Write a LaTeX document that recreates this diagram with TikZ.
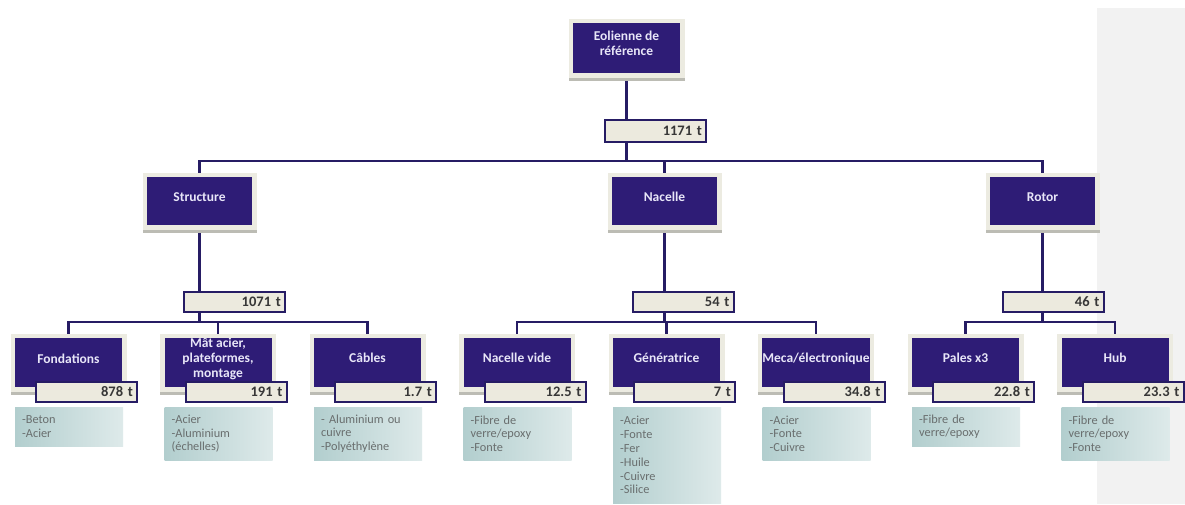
\documentclass[tikz,border=0pt]{standalone}
\usepackage{fontspec}
\setmainfont{Carlito}
\definecolor{navy}{RGB}{46,28,118}
\definecolor{linec}{RGB}{38,28,100}
\definecolor{bezel}{RGB}{236,235,225}
\definecolor{shade}{RGB}{188,188,180}
\definecolor{massfill}{RGB}{236,234,222}
\definecolor{masstext}{RGB}{55,55,55}
\definecolor{boxtext}{RGB}{232,230,248}
\definecolor{matL}{RGB}{178,206,206}
\definecolor{matR}{RGB}{222,234,234}
\definecolor{mattext}{RGB}{105,110,110}
\definecolor{panelc}{RGB}{242,242,242}
\pgfdeclarelayer{panellayer}
\pgfdeclarelayer{linelayer}
\pgfsetlayers{panellayer,linelayer,main}
\begin{document}
\begin{tikzpicture}[x=1pt,y=-1pt,
  conn/.style={draw=linec, line width=2.6pt},
  darkbox/.style={fill=navy, text=boxtext, font=\bfseries\fontsize{13.5}{15}\selectfont,
     align=center, inner sep=0pt, minimum width=107pt, minimum height=49pt,
     execute at end node={\rule[-8.5pt]{0pt}{8.5pt}},
     preaction={draw=shade, line width=9pt, transform canvas={yshift=-3pt}},
     preaction={draw=bezel, line width=9pt}},
  massbox/.style={fill=massfill, draw=linec, line width=2pt, text=masstext,
     font=\bfseries\fontsize{14.5}{15}\selectfont, inner xsep=4pt, inner ysep=0pt,
     text width=93pt, align=right, minimum height=20pt},
  matbox/.style={anchor=north west, left color=matL, right color=matR, text=mattext,
     font=\fontsize{12.3}{13.8}\selectfont, align=left, text width=94pt,
     inner xsep=7pt, inner ysep=6pt, minimum width=108pt}
]
\useasboundingbox (0,0) rectangle (1185,504);
\begin{pgfonlayer}{panellayer}
\fill[white] (0,0) rectangle (1185,504);
\fill[panelc] (1097,8) rectangle (1185,504);
\end{pgfonlayer}

% top
\node[darkbox, minimum height=50pt] (eol) at (626.5,48) {Eolienne de\\référence};
\node[massbox, minimum height=22pt] (m1171) at (655.5,131) {1171 t};

% level 2
\node[darkbox, minimum width=105pt, minimum height=48pt] (struct) at (199.5,201) {Structure};
\node[darkbox, minimum width=105pt, minimum height=48pt] (nac) at (664.5,201) {Nacelle};
\node[darkbox, minimum width=105pt, minimum height=48pt] (rotor) at (1042.5,201) {Rotor};
\node[massbox] (m1071) at (234.5,302) {1071 t};
\node[massbox] (m54) at (683,302) {54 t};
\node[massbox] (m46) at (1053,302) {46 t};

% level 3
\node[darkbox] (fond) at (68.5,362.5) {Fondations};
\node[massbox] (m878) at (86.5,392) {878 t};
\node[matbox, minimum height=39pt] (tfond) at (15,407) {-Beton\\-Acier};

\node[darkbox] (mat) at (218,362.5) {Mât acier,\\plateformes,\\montage};
\node[massbox] (m191) at (236,392) {191 t};
\node[matbox, minimum height=53pt] (tmat) at (164.5,407) {-Acier\\-Aluminium\\(échelles)};

\node[darkbox] (cab) at (367.5,362.5) {Câbles};
\node[massbox] (m17) at (385.5,392) {1.7 t};
\node[matbox, minimum height=53pt] (tcab) at (314,407) {- Aluminium ou\\cuivre\\-Polyéthylène};

\node[darkbox] (nvide) at (517,362.5) {Nacelle vide};
\node[massbox] (m125) at (535,392) {12.5 t};
\node[matbox, minimum height=53pt] (tnvide) at (463.5,407) {-Fibre de\\verre/epoxy\\-Fonte};

\node[darkbox] (gen) at (666.5,362.5) {Génératrice};
\node[massbox] (m7) at (684.5,392) {7 t};
\node[matbox, minimum height=96pt] (tgen) at (613,407) {-Acier\\-Fonte\\-Fer\\-Huile\\-Cuivre\\-Silice};

\node[darkbox] (meca) at (816,362.5) {Meca/électronique};
\node[massbox] (m348) at (834,392) {34.8 t};
\node[matbox, minimum height=53pt] (tmeca) at (762.5,407) {-Acier\\-Fonte\\-Cuivre};

\node[darkbox] (pales) at (965.5,362.5) {Pales x3};
\node[massbox] (m228) at (983.5,392) {22.8 t};
\node[matbox, minimum height=39pt] (tpales) at (912,407) {-Fibre de\\verre/epoxy};

\node[darkbox] (hub) at (1115,362.5) {Hub};
\node[massbox] (m233) at (1133,392) {23.3 t};
\node[matbox, minimum height=53pt] (thub) at (1061.5,407) {-Fibre de\\verre/epoxy\\-Fonte};

% connectors
\coordinate (j1) at (627,161);
\coordinate (j2) at (0,322);
\begin{pgfonlayer}{linelayer}
\draw[conn] (eol.south) -- (eol.south |- j1);
\draw[conn] (struct.north) -- (struct.north |- j1) -- (rotor.north |- j1) -- (rotor.north);
\draw[conn] (nac.north) -- (nac.north |- j1);
\draw[conn] (struct.south) -- (struct.south |- j2);
\draw[conn] (nac.south) -- (nac.south |- j2);
\draw[conn] (rotor.south) -- (rotor.south |- j2);
\draw[conn] (fond.north) -- (fond.north |- j2) -- (cab.north |- j2) -- (cab.north);
\draw[conn] (mat.north) -- (mat.north |- j2);
\draw[conn] (nvide.north) -- (nvide.north |- j2) -- (meca.north |- j2) -- (meca.north);
\draw[conn] (gen.north) -- (gen.north |- j2);
\draw[conn] (pales.north) -- (pales.north |- j2) -- (hub.north |- j2) -- (hub.north);
\end{pgfonlayer}
\end{tikzpicture}
\end{document}
